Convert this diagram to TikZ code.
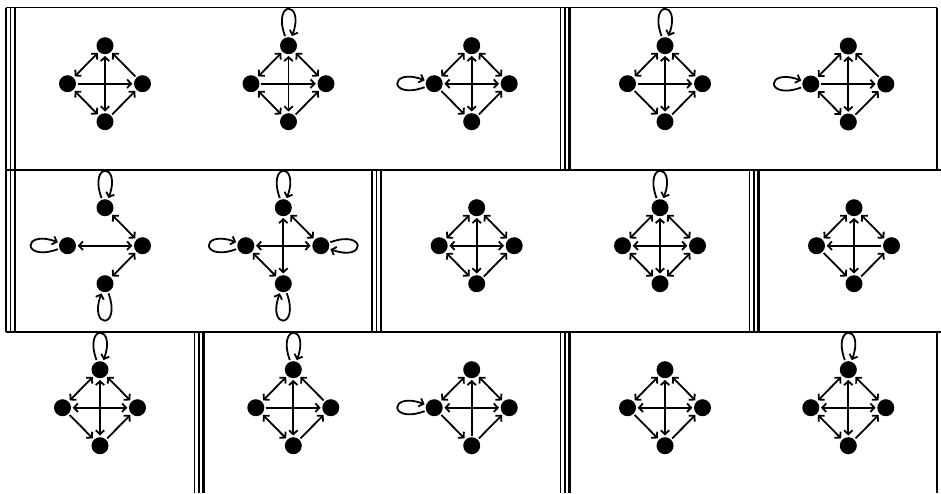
\documentclass[tikz,border=0pt]{standalone}
\usetikzlibrary{arrows.meta,positioning}
\tikzset{
  vertex/.style={circle, fill=black, inner sep=0pt, minimum size=17pt},
  arc/.style={line width=1.8pt, shorten >=1.5pt, shorten <=1.5pt, >={Straight Barb[length=4pt,width=8.5pt]}},
  frame/.style={line width=1.9pt},
  sepline/.style={line width=1.7pt},
  looptop/.style={->, out=110, in=70, min distance=40pt},
  loopleft/.style={->, out=200, in=160, min distance=40pt},
  loopbottom/.style={->, out=290, in=250, min distance=40pt},
  loopright/.style={->, out=20, in=340, min distance=40pt}
}
% four vertices of one small digraph: top, left, right, bottom
\newcommand{\quadnodes}[3]{%
  \node[vertex] (#1t) at (#2,#3) {};
  \node[vertex, below left=of #1t] (#1l) {};
  \node[vertex, below right=of #1t] (#1r) {};
  \node[vertex, below=76pt of #1t] (#1b) {};
}

\begin{document}
\begin{tikzpicture}[x=1pt, y=1pt, node distance=38pt and 37.5pt, on grid]
\useasboundingbox (0,0) rectangle (941,-493);

% frames
\draw[frame] (5.5,-7.5) -- (937,-7.5);
\draw[frame] (5.5,-170) -- (941,-170);
\draw[frame] (5.5,-332) -- (941,-332);
\draw[frame] (937,-7.5) -- (937,-170);
\draw[frame] (937,-332) -- (937,-493);
\foreach \x/\ya/\yb in {6/7.5/332, 560.5/7.5/170, 372/170/332, 749.5/170/332, 194.5/332/493, 560.5/332/493} {
  \draw[sepline] (\x,-\ya) -- (\x,-\yb);
  \draw[sepline] (\x+4.5,-\ya) -- (\x+4.5,-\yb);
  \draw[line width=2.4pt] (\x+9,-\ya) -- (\x+9,-\yb);
}

% row 1
\quadnodes{g1}{105}{-45.7}
\quadnodes{g2}{288.5}{-45.7}
\quadnodes{g3}{471.7}{-45.7}
\quadnodes{g4}{665}{-45.7}
\quadnodes{g5}{848.3}{-46}
\path[arc] (g1t) edge[<->] (g1l) edge[<-] (g1r) edge[<->] (g1b)
  (g1l) edge[->] (g1r) edge[<->] (g1b) (g1b) edge[->] (g1r);
\path[arc] (g2t) edge[looptop] (g2t) edge[<->] (g2l) edge[<->] (g2r) edge[<->] (g2b)
  (g2l) edge[->] (g2r) edge[<->] (g2b) (g2b) edge[->] (g2r);
\path[arc] (g3l) edge[loopleft] (g3l) (g3t) edge[<->] (g3l) edge[<->] (g3r) edge[<->] (g3b)
  (g3l) edge[<->] (g3r) edge[->] (g3b) (g3b) edge[->] (g3r);
\path[arc] (g4t) edge[looptop] (g4t) edge[<->] (g4l) edge[<->] (g4r) edge[<->] (g4b)
  (g4l) edge[->] (g4r) edge[->] (g4b) (g4b) edge[->] (g4r);
\path[arc] (g5l) edge[loopleft] (g5l) (g5t) edge[<->] (g5l) edge[<-] (g5r) edge[<->] (g5b)
  (g5l) edge[->] (g5r) edge[<->] (g5b) (g5b) edge[->] (g5r);

% row 2
\quadnodes{g6}{105}{-207.7}
\quadnodes{g7}{283.3}{-207.7}
\quadnodes{g8}{476.7}{-207.7}
\quadnodes{g9}{660}{-207.7}
\quadnodes{g10}{854}{-207.7}
\path[arc] (g6t) edge[looptop] (g6t) (g6l) edge[loopleft] (g6l) (g6b) edge[loopbottom] (g6b)
  (g6t) edge[<->] (g6r) (g6l) edge[<->] (g6r) (g6b) edge[<->] (g6r);
\path[arc] (g7t) edge[looptop] (g7t) (g7l) edge[loopleft] (g7l) (g7b) edge[loopbottom] (g7b)
  (g7r) edge[loopright] (g7r)
  (g7t) edge[<->] (g7r) edge[<->] (g7b) (g7l) edge[<->] (g7r) edge[<->] (g7b);
\path[arc] (g8t) edge[<->] (g8l) edge[<->] (g8r) edge[<->] (g8b)
  (g8l) edge[<->] (g8r) edge[<->] (g8b) (g8b) edge[->] (g8r);
\path[arc] (g9t) edge[looptop] (g9t) edge[<->] (g9l) edge[<->] (g9r) edge[<->] (g9b)
  (g9l) edge[<->] (g9r) edge[<->] (g9b) (g9b) edge[<->] (g9r);
\path[arc] (g10t) edge[<->] (g10l) edge[<->] (g10r) edge[<->] (g10b)
  (g10l) edge[<-] (g10r) edge[->] (g10b) (g10b) edge[->] (g10r);

% row 3
\quadnodes{g11}{100}{-369.7}
\quadnodes{g12}{293.3}{-369.7}
\quadnodes{g13}{471.7}{-369.7}
\quadnodes{g14}{665}{-369.7}
\quadnodes{g15}{848.3}{-369.7}
\path[arc] (g11t) edge[looptop] (g11t) edge[<->] (g11l) edge[<->] (g11r) edge[<->] (g11b)
  (g11l) edge[<->] (g11r) edge[->] (g11b) (g11b) edge[->] (g11r);
\path[arc] (g12t) edge[looptop] (g12t) edge[<->] (g12l) edge[<-] (g12r) edge[<->] (g12b)
  (g12l) edge[->] (g12r) edge[<->] (g12b) (g12b) edge[->] (g12r);
\path[arc] (g13l) edge[loopleft] (g13l) (g13t) edge[<->] (g13l) edge[<->] (g13r) edge[<-] (g13b)
  (g13l) edge[<->] (g13r) edge[->] (g13b) (g13b) edge[->] (g13r);
\path[arc] (g14t) edge[<->] (g14l) edge[<->] (g14r) edge[<->] (g14b)
  (g14l) edge[<->] (g14r) edge[->] (g14b) (g14b) edge[->] (g14r);
\path[arc] (g15t) edge[looptop] (g15t) edge[<->] (g15l) edge[<->] (g15r) edge[<->] (g15b)
  (g15l) edge[<->] (g15r) edge[<->] (g15b) (g15b) edge[->] (g15r);
\end{tikzpicture}
\end{document}
